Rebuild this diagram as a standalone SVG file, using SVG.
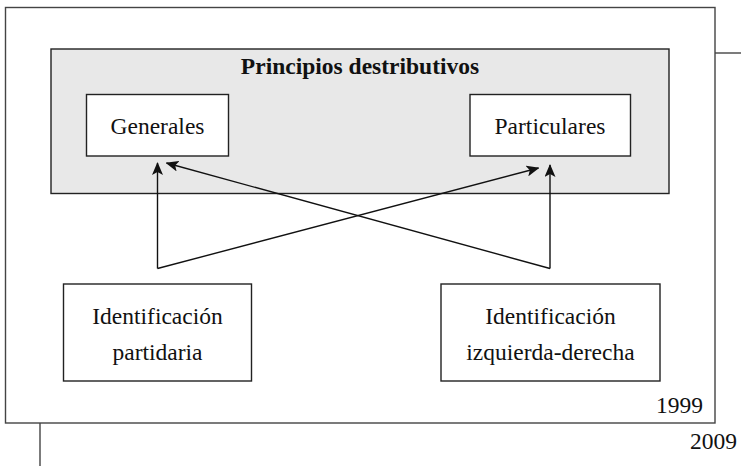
<svg xmlns="http://www.w3.org/2000/svg" width="741" height="466" viewBox="0 0 741 466">
<style>
.box{fill:#fff;stroke:#222;stroke-width:1.4}
.t{font-family:"Liberation Serif","Times New Roman",serif;font-size:23.5px;fill:#111;text-anchor:middle}
.c{fill:none;stroke:#111;stroke-width:1.4}
</style>
<defs>
<marker id="ah" viewBox="0 0 13 11" refX="12" refY="5.5" markerWidth="13" markerHeight="11" markerUnits="userSpaceOnUse" orient="auto">
<path d="M0,0 L13,5.5 L0,11 L3,5.5 Z" fill="#111"/>
</marker>
</defs>
<rect x="5.5" y="7.5" width="709.5" height="415.5" fill="#fff" stroke="#444" stroke-width="1.4"/>
<line x1="715" y1="53" x2="741" y2="53" stroke="#444" stroke-width="1.4"/>
<line x1="40" y1="423" x2="40" y2="466" stroke="#444" stroke-width="1.4"/>
<g id="principios">
<rect x="51" y="49" width="618" height="144.5" fill="#e8e8e8" stroke="#222" stroke-width="1.4"/>
<text class="t" x="360" y="74" font-weight="bold">Principios destributivos</text>
</g>
<g id="generales">
<rect class="box" x="86.5" y="94.5" width="142" height="61.5"/>
<text class="t" x="157.5" y="134">Generales</text>
</g>
<g id="particulares">
<rect class="box" x="470" y="94.5" width="160.5" height="61.5"/>
<text class="t" x="550" y="134">Particulares</text>
</g>
<g id="partidaria">
<rect class="box" x="63.5" y="284" width="188" height="97"/>
<text class="t" x="157.5" y="324">Identificación</text>
<text class="t" x="157.5" y="360">partidaria</text>
</g>
<g id="izqder">
<rect class="box" x="441" y="284" width="219" height="97"/>
<text class="t" x="550.5" y="324">Identificación</text>
<text class="t" x="550.5" y="360">izquierda-derecha</text>
</g>
<g id="connectors">
<path class="c" d="M157.5,268.5 L157.5,163" marker-end="url(#ah)"/>
<path class="c" d="M157.5,268.5 L538.5,168" marker-end="url(#ah)"/>
<path class="c" d="M550,268.5 L550,165" marker-end="url(#ah)"/>
<path class="c" d="M550,268.5 L166.5,163" marker-end="url(#ah)"/>
</g>
<text class="t" x="703" y="413" style="text-anchor:end">1999</text>
<text class="t" x="737" y="449" style="text-anchor:end">2009</text>
</svg>
